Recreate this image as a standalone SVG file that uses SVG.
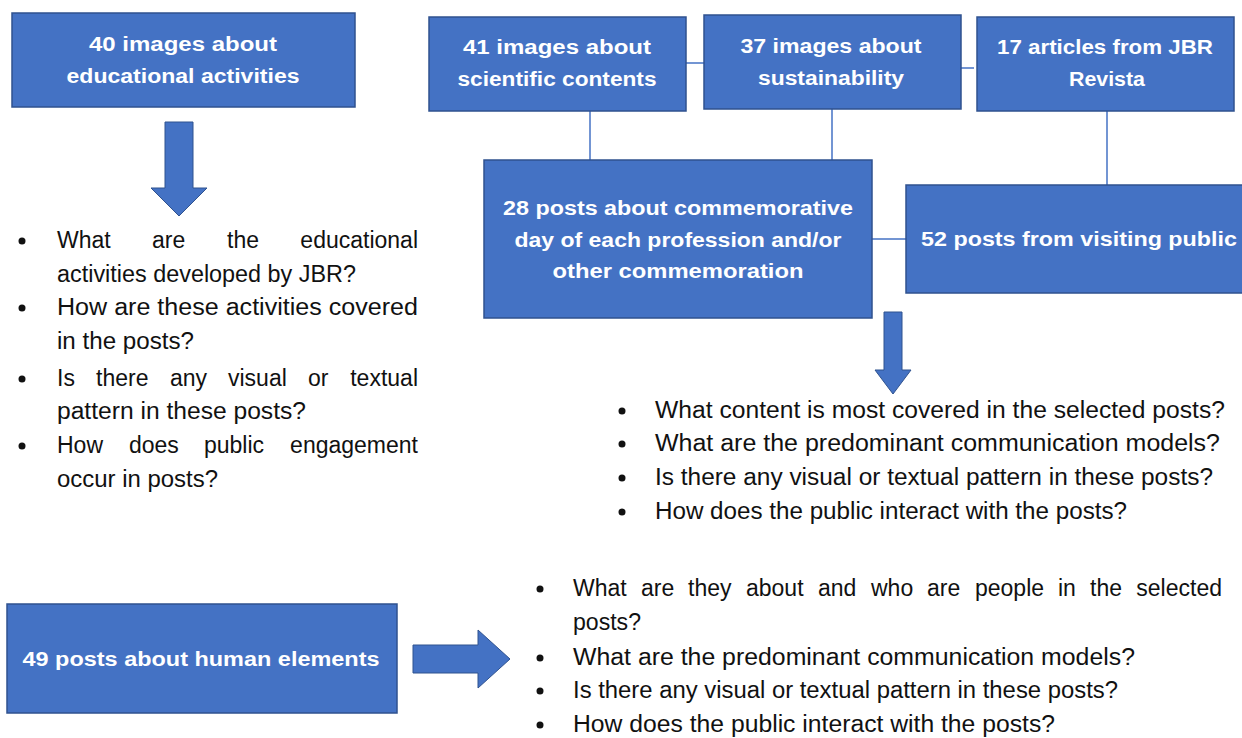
<svg xmlns="http://www.w3.org/2000/svg" width="1242" height="738" viewBox="0 0 1242 738">
<style>
.box{fill:#4472C4;stroke:#2F528F;stroke-width:1.5}
.bt{font-family:"Liberation Sans",Arial,sans-serif;font-weight:bold;font-size:20px;fill:#fff;text-anchor:middle}
.q{font-family:"Liberation Sans",Arial,sans-serif;font-size:23px;fill:#111}
.qe{font-family:"Liberation Sans",Arial,sans-serif;font-size:23px;fill:#111;text-anchor:end}
.con{stroke:#4472C4;stroke-width:1.5;fill:none}
.arr{fill:#4472C4;stroke:#2F528F;stroke-width:1}
.dot{fill:#111}
</style>
<rect width="1242" height="738" fill="#fff"/>
<g id="connectors">
<line class="con" x1="686" y1="63" x2="704" y2="63"/>
<line class="con" x1="961" y1="68" x2="974" y2="68"/>
<line class="con" x1="590" y1="111" x2="590" y2="160"/>
<line class="con" x1="832" y1="109" x2="832" y2="160"/>
<line class="con" x1="1107" y1="111" x2="1107" y2="185"/>
<line class="con" x1="872" y1="239" x2="906" y2="239"/>
<polygon class="arr" points="165,122 193,122 193,188 207,188 179,216 151,188 165,188"/>
<polygon class="arr" points="884,312 902,312 902,370 911,370 893,394 875,370 884,370"/>
<polygon class="arr" points="413,645 478,645 478,630 510,659 478,688 478,673 413,673"/>
</g>
<g id="n40">
<rect class="box" x="12" y="13" width="343" height="94"/>
<text class="bt" x="183" y="51" textLength="188" lengthAdjust="spacingAndGlyphs">40  images about</text>
<text class="bt" x="183" y="83" textLength="233" lengthAdjust="spacingAndGlyphs">educational activities</text>
</g>
<g id="n41">
<rect class="box" x="429" y="17" width="257" height="94"/>
<text class="bt" x="557" y="54" textLength="188" lengthAdjust="spacingAndGlyphs">41  images about</text>
<text class="bt" x="557" y="86" textLength="199" lengthAdjust="spacingAndGlyphs">scientific contents</text>
</g>
<g id="n37">
<rect class="box" x="704" y="15" width="257" height="94"/>
<text class="bt" x="831" y="53" textLength="181" lengthAdjust="spacingAndGlyphs">37 images about</text>
<text class="bt" x="831" y="85" textLength="146" lengthAdjust="spacingAndGlyphs">sustainability</text>
</g>
<g id="n17">
<rect class="box" x="977" y="17" width="257" height="94"/>
<text class="bt" x="1105" y="54" textLength="216" lengthAdjust="spacingAndGlyphs">17 articles from JBR</text>
<text class="bt" x="1107" y="86" textLength="76" lengthAdjust="spacingAndGlyphs">Revista</text>
</g>
<g id="n28">
<rect class="box" x="484" y="160" width="388" height="158"/>
<text class="bt" x="678" y="215" textLength="350" lengthAdjust="spacingAndGlyphs">28 posts about commemorative</text>
<text class="bt" x="678" y="247" textLength="327" lengthAdjust="spacingAndGlyphs">day of each profession and/or</text>
<text class="bt" x="678" y="278" textLength="251" lengthAdjust="spacingAndGlyphs">other commemoration</text>
</g>
<g id="n52">
<rect class="box" x="906" y="185" width="340" height="108"/>
<text class="bt" x="1079" y="246" textLength="316" lengthAdjust="spacingAndGlyphs">52 posts from  visiting public</text>
</g>
<g id="n49">
<rect class="box" x="7" y="604" width="390" height="109"/>
<text class="bt" x="201" y="666" textLength="357" lengthAdjust="spacingAndGlyphs">49 posts about human elements</text>
</g>
<g id="list1">
<circle class="dot" cx="22" cy="241" r="3.5"/>
<circle class="dot" cx="22" cy="308" r="3.5"/>
<circle class="dot" cx="22" cy="379" r="3.5"/>
<circle class="dot" cx="22" cy="446" r="3.5"/>
<text class="q" x="57" y="248">What</text>
<text class="q" x="152" y="248">are</text>
<text class="q" x="227" y="248">the</text>
<text class="qe" x="418" y="248">educational</text>
<text class="q" x="57" y="282" textLength="299" lengthAdjust="spacingAndGlyphs">activities developed by JBR?</text>
<text class="q" x="57" y="315" textLength="361" lengthAdjust="spacingAndGlyphs">How are these activities covered</text>
<text class="q" x="57" y="349" textLength="137" lengthAdjust="spacingAndGlyphs">in the posts?</text>
<text class="q" x="57" y="386">Is</text>
<text class="q" x="96" y="386">there</text>
<text class="q" x="170" y="386">any</text>
<text class="q" x="228" y="386">visual</text>
<text class="q" x="308" y="386">or</text>
<text class="qe" x="418" y="386">textual</text>
<text class="q" x="57" y="419" textLength="249" lengthAdjust="spacingAndGlyphs">pattern in these posts?</text>
<text class="q" x="57" y="453">How</text>
<text class="q" x="129" y="453">does</text>
<text class="q" x="204" y="453">public</text>
<text class="qe" x="418" y="453">engagement</text>
<text class="q" x="57" y="487" textLength="161" lengthAdjust="spacingAndGlyphs">occur in posts?</text>
</g>
<g id="list2">
<circle class="dot" cx="622" cy="411" r="3.5"/>
<circle class="dot" cx="622" cy="444" r="3.5"/>
<circle class="dot" cx="622" cy="478" r="3.5"/>
<circle class="dot" cx="622" cy="512" r="3.5"/>
<text class="q" x="655" y="418" textLength="570" lengthAdjust="spacingAndGlyphs">What content is most covered in the selected posts?</text>
<text class="q" x="655" y="451" textLength="565" lengthAdjust="spacingAndGlyphs">What are the predominant communication models?</text>
<text class="q" x="655" y="485" textLength="558" lengthAdjust="spacingAndGlyphs">Is there any visual or textual pattern in these posts?</text>
<text class="q" x="655" y="519" textLength="472" lengthAdjust="spacingAndGlyphs">How does the public interact with the posts?</text>
</g>
<g id="list3">
<circle class="dot" cx="540" cy="589" r="3.5"/>
<circle class="dot" cx="540" cy="658" r="3.5"/>
<circle class="dot" cx="540" cy="691" r="3.5"/>
<circle class="dot" cx="540" cy="725" r="3.5"/>
<text class="q" x="573" y="596">What</text>
<text class="q" x="641" y="596">are</text>
<text class="q" x="688" y="596">they</text>
<text class="q" x="746" y="596">about</text>
<text class="q" x="818" y="596">and</text>
<text class="q" x="871" y="596">who</text>
<text class="q" x="927" y="596">are</text>
<text class="q" x="975" y="596">people</text>
<text class="q" x="1058" y="596">in</text>
<text class="q" x="1090" y="596">the</text>
<text class="qe" x="1222" y="596">selected</text>
<text class="q" x="573" y="630" textLength="68" lengthAdjust="spacingAndGlyphs">posts?</text>
<text class="q" x="573" y="665" textLength="562" lengthAdjust="spacingAndGlyphs">What are the predominant communication models?</text>
<text class="q" x="573" y="698" textLength="545" lengthAdjust="spacingAndGlyphs">Is there any visual or textual pattern in these posts?</text>
<text class="q" x="573" y="732" textLength="482" lengthAdjust="spacingAndGlyphs">How does the public interact with the posts?</text>
</g>
</svg>
